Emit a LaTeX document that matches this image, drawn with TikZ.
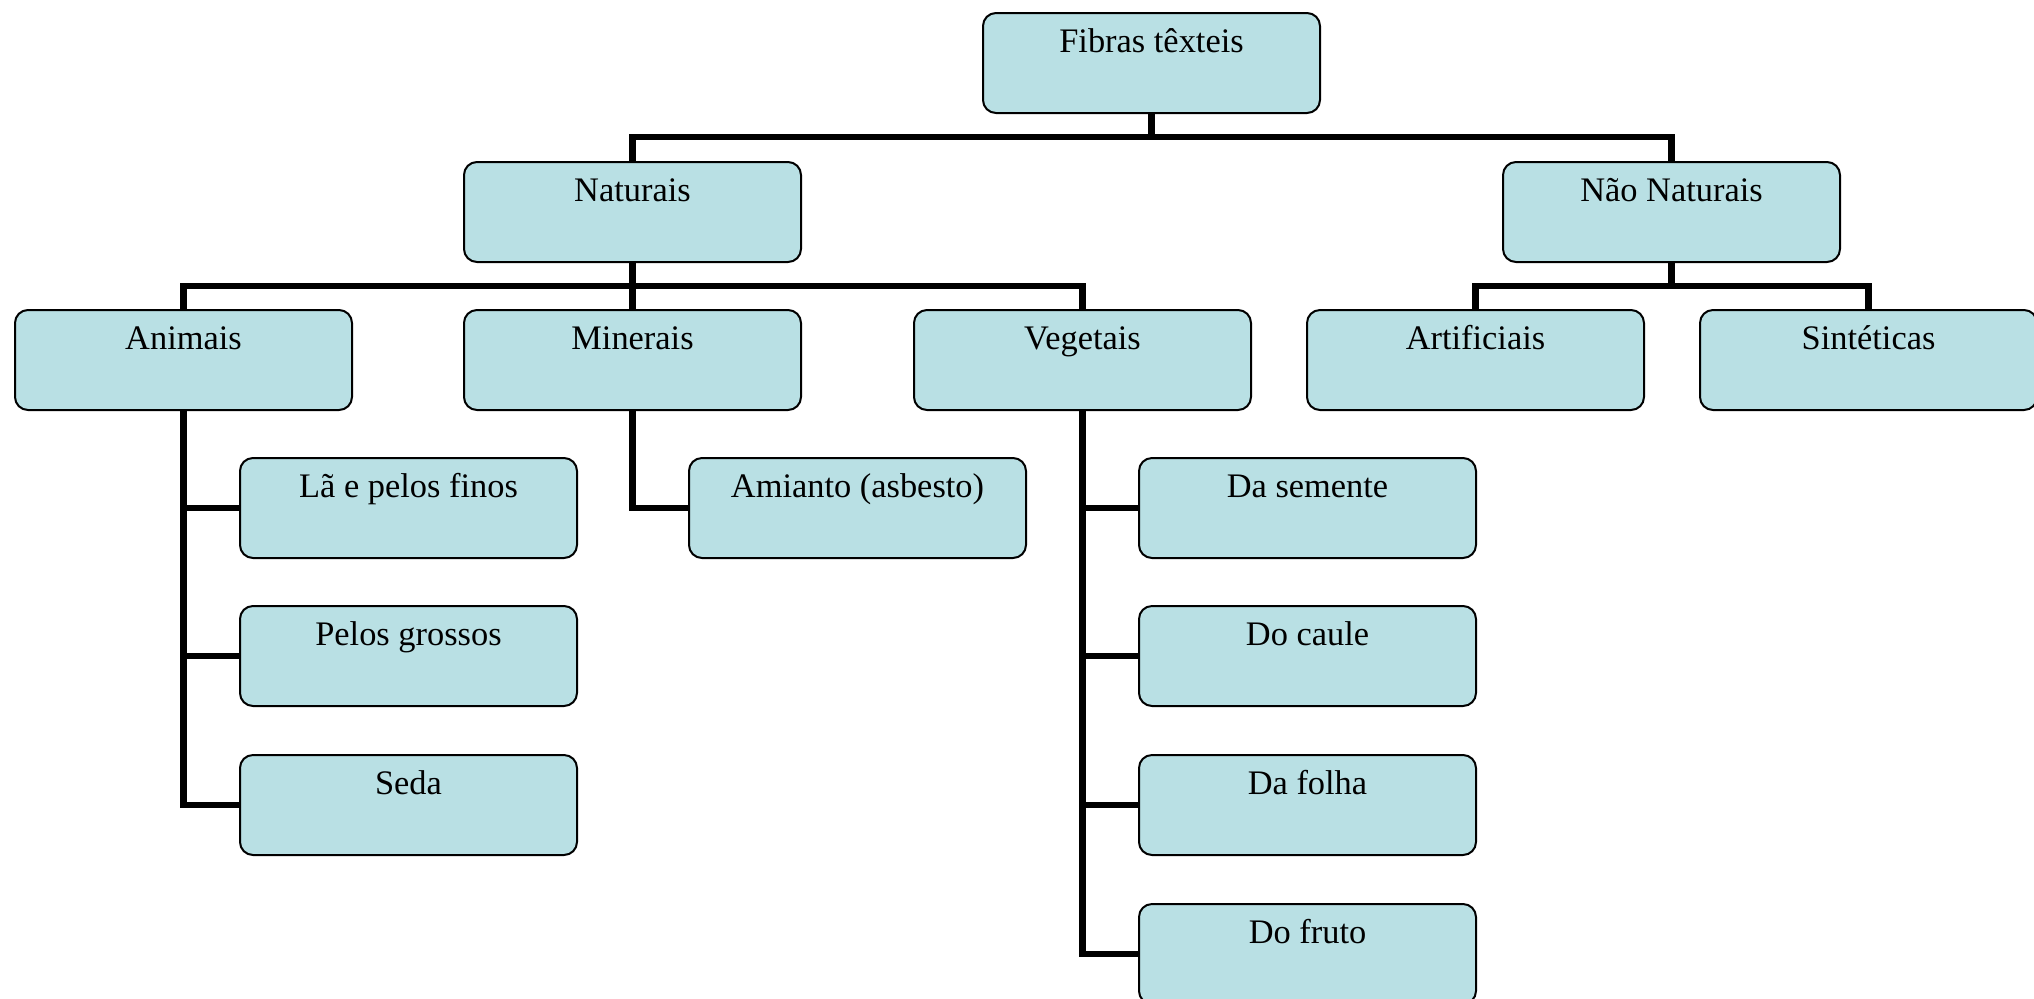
\documentclass[tikz,border=0pt]{standalone}
\usepackage{fontspec}
\setmainfont{Liberation Serif}
\begin{document}
\begin{tikzpicture}[x=0.5pt,y=-0.5pt,
  box/.style={draw=black, line width=1pt, fill=boxfill, rounded corners=6.5pt,
    anchor=north west, inner xsep=0pt, inner ysep=0pt, outer sep=0pt,
    minimum width=168.5pt, text height=19.5pt, text depth=30.5pt,
    font=\fontsize{17.2pt}{20pt}\selectfont, align=center},
  link/.style={line width=3.2pt, draw=black}]
\definecolor{boxfill}{HTML}{B9E0E4}
\useasboundingbox (0,0) rectangle (2034,998);

% level 0
\node[box] (fib) at (983,13) {Fibras têxteis};
% level 1
\node[box] (nat) at (464,162) {Naturais};
\node[box] (nnat) at (1503,162) {Não Naturais};
% level 2
\node[box] (ani) at (15,310) {Animais};
\node[box] (min) at (464,310) {Minerais};
\node[box] (veg) at (914,310) {Vegetais};
\node[box] (art) at (1307,310) {Artificiais};
\node[box] (sin) at (1700,310) {Sintéticas};
% level 3
\node[box] (la) at (240,458) {Lã e pelos finos};
\node[box] (pg) at (240,606) {Pelos grossos};
\node[box] (seda) at (240,755) {Seda};
\node[box] (ami) at (689,458) {Amianto (asbesto)};
\node[box] (sem) at (1139,458) {Da semente};
\node[box] (cau) at (1139,606) {Do caule};
\node[box] (fol) at (1139,755) {Da folha};
\node[box] (fru) at (1139,904) {Do fruto};

% tree connectors
\draw[link] (fib.south) -- ++(0,24) -| (nat.north);
\draw[link] (fib.south) -- ++(0,24) -| (nnat.north);
\draw[link] (nat.south) -- ++(0,24) -| (ani.north);
\draw[link] (nat.south) -- (min.north);
\draw[link] (nat.south) -- ++(0,24) -| (veg.north);
\draw[link] (nnat.south) -- ++(0,24) -| (art.north);
\draw[link] (nnat.south) -- ++(0,24) -| (sin.north);
% side branches
\draw[link] (ani.south) |- (la.west);
\draw[link] (ani.south) |- (pg.west);
\draw[link] (ani.south) |- (seda.west);
\draw[link] (min.south) |- (ami.west);
\draw[link] (veg.south) |- (sem.west);
\draw[link] (veg.south) |- (cau.west);
\draw[link] (veg.south) |- (fol.west);
\draw[link] (veg.south) |- (fru.west);
\end{tikzpicture}
\end{document}
